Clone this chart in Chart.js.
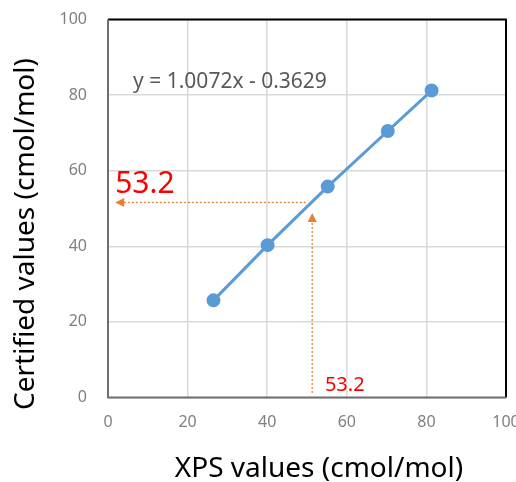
<!DOCTYPE html>
<html><head><meta charset="utf-8">
<script src="https://cdn.jsdelivr.net/npm/chart.js@4"></script>
<style>html,body{margin:0;padding:0;background:#fff}#wrap{width:516px;height:482px}</style>
</head><body><div id="wrap"><canvas id="c" width="516" height="482"></canvas></div>
<script>
// Data
const xpsValues = [26.5, 40.1, 55.2, 70.3, 81.3];
const certifiedValues = [25.7, 40.3, 55.8, 70.5, 81.2];
const axisTicks = [0, 20, 40, 60, 80, 100];
const equationLabel = 'y = 1.0072x - 0.3629';
const readoutLabel = '53.2';
const readoutX = [51.3, 1.2, 48.8];   // vertical guide: x, from y, to y (arrow)
const readoutY = [51.6, 49.7, 1.8];   // horizontal guide: y, from x, to x (arrow)
const xTitle = 'XPS values (cmol/mol)';
const yTitle = 'Certified values (cmol/mol)';

const FONT = "'Noto Sans', sans-serif";

const overlay = {
  id: 'overlay',
  afterDraw(chart) {
    const {ctx, chartArea: a, scales: {x, y}} = chart;
    ctx.save();
    // frame
    ctx.strokeStyle = '#000'; ctx.lineWidth = 2;
    ctx.beginPath();
    ctx.moveTo(a.left, a.top); ctx.lineTo(a.right, a.top); ctx.lineTo(a.right, a.bottom);
    ctx.stroke();
    ctx.strokeStyle = '#6e6e6e';
    ctx.beginPath();
    ctx.moveTo(a.left, a.top); ctx.lineTo(a.left, a.bottom); ctx.lineTo(a.right, a.bottom);
    ctx.stroke();

    // orange dotted guides
    const orange = '#ed7d31';
    ctx.strokeStyle = orange; ctx.fillStyle = orange; ctx.lineWidth = 1.3;
    ctx.setLineDash([2, 2]);
    const vx = x.getPixelForValue(readoutX[0]);
    const vy0 = y.getPixelForValue(readoutX[1]);
    const vy1 = y.getPixelForValue(readoutX[2]);
    ctx.beginPath(); ctx.moveTo(vx, vy0); ctx.lineTo(vx, vy1 + 6); ctx.stroke();
    const hy = y.getPixelForValue(readoutY[0]);
    const hx0 = x.getPixelForValue(readoutY[1]);
    const hx1 = x.getPixelForValue(readoutY[2]);
    ctx.beginPath(); ctx.moveTo(hx0, hy); ctx.lineTo(hx1 + 6, hy); ctx.stroke();
    ctx.setLineDash([]);
    // arrow heads
    ctx.beginPath(); ctx.moveTo(vx, vy1); ctx.lineTo(vx - 4.5, vy1 + 9); ctx.lineTo(vx + 4.5, vy1 + 9); ctx.closePath(); ctx.fill();
    ctx.beginPath(); ctx.moveTo(hx1, hy); ctx.lineTo(hx1 + 9, hy - 4.5); ctx.lineTo(hx1 + 9, hy + 4.5); ctx.closePath(); ctx.fill();

    // texts
    ctx.fillStyle = '#595959';
    ctx.font = "21px " + FONT;
    ctx.textAlign = 'left'; ctx.textBaseline = 'middle';
    ctx.fillText(equationLabel, x.getPixelForValue(6.3), y.getPixelForValue(83.5));

    ctx.fillStyle = '#ff0000';
    ctx.font = "30px " + FONT;
    ctx.textBaseline = 'alphabetic';
    ctx.fillText(readoutLabel, x.getPixelForValue(1.8), y.getPixelForValue(54.2));
    ctx.font = "20px " + FONT;
    ctx.fillText(readoutLabel, x.getPixelForValue(54.5), y.getPixelForValue(1.8));

    // axis titles
    ctx.fillStyle = '#000';
    ctx.font = "28px " + FONT;
    ctx.textAlign = 'center'; ctx.textBaseline = 'middle';
    ctx.fillText(xTitle, 319, 469);
    ctx.translate(26, 234); ctx.rotate(-Math.PI / 2);
    ctx.fillText(yTitle, 0, 0);
    ctx.restore();
  }
};

new Chart(document.getElementById('c'), {
  type: 'scatter',
  data: {
    datasets: [{
      data: xpsValues.map((v, i) => ({x: v, y: certifiedValues[i]})),
      showLine: true,
      borderColor: '#5b9bd5',
      backgroundColor: '#5b9bd5',
      borderWidth: 3,
      pointRadius: 5.5,
      pointHoverRadius: 5.5
    }]
  },
  options: {
    responsive: false,
    animation: false,
    layout: {padding: {top: 19.5, right: 10, left: 0, bottom: 0}},
    plugins: {legend: {display: false}, tooltip: {enabled: false}},
    scales: {
      x: {
        type: 'linear', min: 0, max: 100,
        afterBuildTicks: s => { s.ticks = axisTicks.map(v => ({value: v})); },
        afterFit: s => { s.height = 84.5; s.paddingLeft = 0; s.paddingRight = 0; },
        grid: {color: '#d9d9d9', lineWidth: 1.5, drawTicks: false},
        border: {display: false},
        ticks: {color: '#7f7f7f', font: {family: FONT, size: 16}, padding: 15, maxRotation: 0}
      },
      y: {
        type: 'linear', min: 0, max: 100,
        afterBuildTicks: s => { s.ticks = axisTicks.map(v => ({value: v})); },
        afterFit: s => { s.width = 108; s.paddingTop = 0; s.paddingBottom = 0; },
        grid: {color: '#d9d9d9', lineWidth: 1.5, drawTicks: false},
        border: {display: false},
        ticks: {color: '#7f7f7f', font: {family: FONT, size: 16}, padding: 21}
      }
    }
  },
  plugins: [overlay]
});
</script>
</body></html>
